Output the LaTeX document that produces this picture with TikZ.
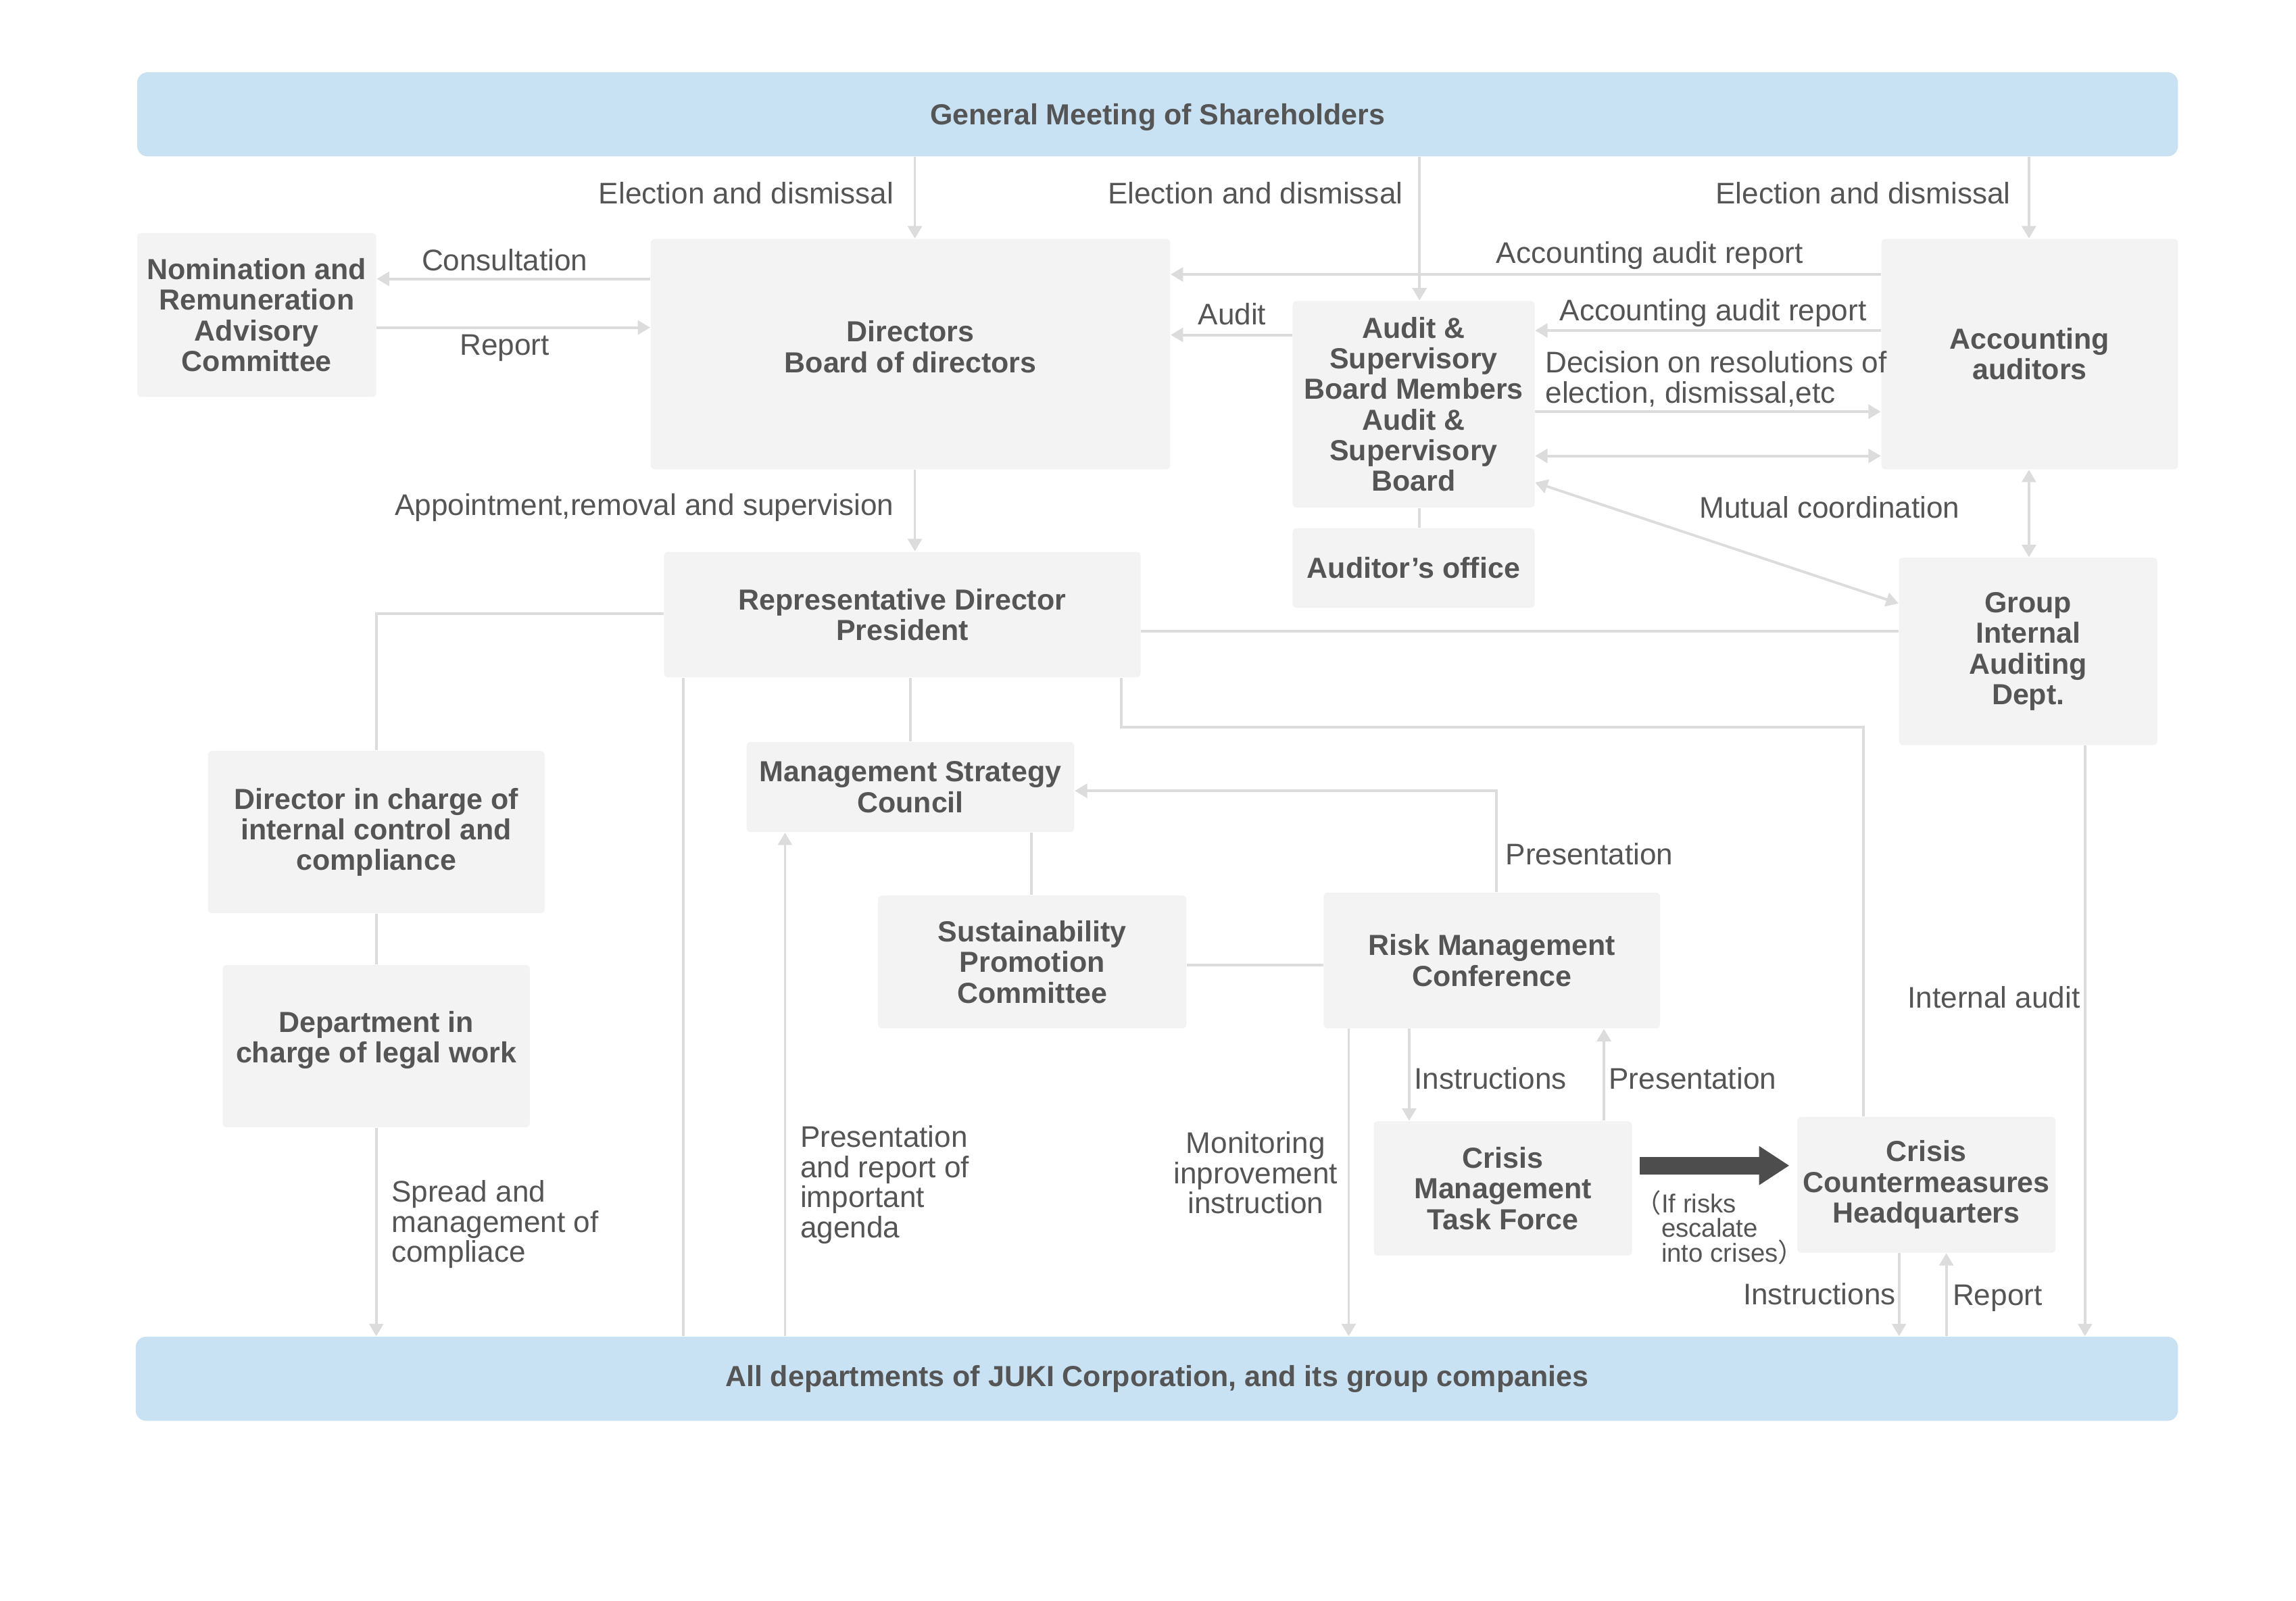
\documentclass[tikz,border=0pt]{standalone}
\usepackage{fontspec}
\setmainfont{Liberation Sans}
\newfontfamily\cjkfont{Noto Sans CJK JP}
\usetikzlibrary{arrows.meta,fit}
\definecolor{bannerblue}{HTML}{C9E2F3}
\definecolor{boxgray}{HTML}{F3F3F3}
\definecolor{linegray}{HTML}{DCDCDC}
\definecolor{textgray}{HTML}{555555}
\definecolor{bigarrowgray}{HTML}{4D4D4D}
% #1 style, #2 name, #3 #4 corners, #5 text shift, #6 text
\newcommand\mkbox[6][box]{%
  \node[#1, fit={#3 #4}] (#2) {};
  \node[boxtext, yshift=#5] (#2-t) at (#2.center) {#6};}
\begin{document}
\begin{tikzpicture}[x=0.02cm,y=-0.02cm,
  box/.style={fill=boxgray, rounded corners=1.5pt, inner sep=0pt},
  banner/.style={fill=bannerblue, rounded corners=4pt, inner sep=0pt},
  boxtext/.style={inner sep=0pt, align=center,
    font=\fontsize{11.2}{11.8}\selectfont\bfseries, text=textgray},
  lbl/.style={font=\fontsize{11.5}{11.6}\selectfont, text=textgray, inner sep=0pt},
  smalllbl/.style={font=\fontsize{10}{9.6}\selectfont, text=textgray, inner sep=0pt, align=left},
  conn/.style={draw=linegray, line width=1pt},
  arr/.style={conn, -{Triangle[width=5.4pt,length=4.8pt]}},
  darr/.style={conn, {Triangle[width=5.4pt,length=4.8pt]}-{Triangle[width=5.4pt,length=4.8pt]}},
  bigarr/.style={draw=bigarrowgray, line width=6.8pt, -{Triangle[width=0.5cm,length=0.41cm]}},
]
\useasboundingbox (0,0) rectangle (1556,1085);

% helper coordinates
\coordinate (x255) at (255,0);
\coordinate (x463) at (463,0);
\coordinate (x532) at (532,0);
\coordinate (x617) at (617,0);
\coordinate (x620) at (620,0);
\coordinate (x699) at (699,0);
\coordinate (x760) at (760,0);
\coordinate (x914) at (914,0);
\coordinate (x955) at (955,0);
\coordinate (x962) at (962,0);
\coordinate (x1014) at (1014,0);
\coordinate (x1087) at (1087,0);
\coordinate (x1263) at (1263,0);
\coordinate (x1287) at (1287,0);
\coordinate (x1319) at (1319,0);
\coordinate (x1375) at (1375,0);
\coordinate (x1413) at (1413,0);
\coordinate (y186) at (0,186);
\coordinate (y189) at (0,189);
\coordinate (y222) at (0,222);
\coordinate (y224) at (0,224);
\coordinate (y227) at (0,227);
\coordinate (y279) at (0,279);
\coordinate (y309) at (0,309);
\coordinate (y327) at (0,327);
\coordinate (y409) at (0,409);
\coordinate (y416) at (0,416);
\coordinate (y428) at (0,428);
\coordinate (y536) at (0,536);
\coordinate (y654) at (0,654);
\coordinate (y790) at (0,790);
\coordinate (bendA) at (1263,493);

% banners
\mkbox[banner]{gm}{(93,49)}{(1476,106)}{-0.04cm}{General Meeting of Shareholders}
\mkbox[banner]{all}{(92,906)}{(1476,963)}{0cm}{All departments of JUKI Corporation, and its group companies}

% boxes
\mkbox{nom}{(93,158)}{(255,269)}{0cm}{Nomination and\\Remuneration\\Advisory\\Committee}
\mkbox{dir}{(441,162)}{(793,318)}{0.1cm}{Directors\\Board of directors}
\mkbox{asb}{(876,204)}{(1040,344)}{0cm}{Audit \&\\Supervisory\\Board Members\\Audit \&\\Supervisory\\Board}
\mkbox{aof}{(876,358)}{(1040,412)}{0cm}{Auditor’s office}
\mkbox{acc}{(1275,162)}{(1476,318)}{0cm}{Accounting\\auditors}
\mkbox{rep}{(450,374)}{(773,459)}{0cm}{Representative Director\\President}
\mkbox{gia}{(1287,378)}{(1462,505)}{0cm}{Group\\Internal\\Auditing\\Dept.}
\mkbox{dic}{(141,509)}{(369,619)}{0cm}{Director in charge of\\internal control and\\compliance}
\mkbox{dlw}{(151,654)}{(359,764)}{0.08cm}{Department in\\charge of legal work}
\mkbox{msc}{(506,503)}{(728,564)}{0cm}{Management Strategy\\Council}
\mkbox{spc}{(595,607)}{(804,697)}{0cm}{Sustainability\\Promotion\\Committee}
\mkbox{rmc}{(897,605)}{(1125,697)}{0cm}{Risk Management\\Conference}
\mkbox{cmt}{(931,760)}{(1106,851)}{0cm}{Crisis\\Management\\Task Force}
\mkbox{chq}{(1218,757)}{(1393,849)}{0cm}{Crisis\\Countermeasures\\Headquarters}

% connectors
\draw[arr] (gm.south -| x620) -- (dir.north -| x620);
\draw[arr] (gm.south -| x962) -- (asb.north -| x962);
\draw[arr] (gm.south -| x1375) -- (acc.north -| x1375);
\draw[arr] (dir.west |- y189) -- (nom.east |- y189);
\draw[arr] (nom.east |- y222) -- (dir.west |- y222);
\draw[arr] (acc.west |- y186) -- (dir.east |- y186);
\draw[arr] (asb.west |- y227) -- (dir.east |- y227);
\draw[arr] (acc.west |- y224) -- (asb.east |- y224);
\draw[arr] (asb.east |- y279) -- (acc.west |- y279);
\draw[darr] (asb.east |- y309) -- (acc.west |- y309);
\draw[darr] (asb.east |- y327) -- (gia.west |- y409);
\draw[darr] (acc.south -| x1375) -- (gia.north -| x1375);
\draw[conn] (asb.south -| x962) -- (aof.north -| x962);
\draw[arr] (dir.south -| x620) -- (rep.north -| x620);
\draw[conn] (rep.east |- y428) -- (gia.west |- y428);
\draw[conn] (rep.west |- y416) -| (dic.north -| x255);
\draw[conn] (dic.south -| x255) -- (dlw.north -| x255);
\draw[arr] (dlw.south -| x255) -- (all.north -| x255);
\draw[conn] (rep.south -| x463) -- (all.north -| x463);
\draw[conn] (rep.south -| x617) -- (msc.north -| x617);
\draw[conn] (rep.south -| x760) |- (bendA) -- (chq.north -| x1263);
\draw[arr] (all.north -| x532) -- (msc.south -| x532);
\draw[conn] (msc.south -| x699) -- (spc.north -| x699);
\draw[conn] (spc.east |- y654) -- (rmc.west |- y654);
\draw[arr] (rmc.north -| x1014) |- (msc.east |- y536);
\draw[arr] (rmc.south -| x914) -- (all.north -| x914);
\draw[arr] (rmc.south -| x955) -- (cmt.north -| x955);
\draw[arr] (cmt.north -| x1087) -- (rmc.south -| x1087);
\draw[bigarr, shorten <=0.1cm, shorten >=0.1cm] (cmt.east |- y790) -- (chq.west |- y790);
\draw[arr] (chq.south -| x1287) -- (all.north -| x1287);
\draw[arr] (all.north -| x1319) -- (chq.south -| x1319);
\draw[arr] (gia.south -| x1413) -- (all.north -| x1413);

% labels
\node[lbl, anchor=east] (l1) at (606,131) {Election and dismissal};
\node[lbl, anchor=east] (l2) at (951,131) {Election and dismissal};
\node[lbl, anchor=east] (l3) at (1363,131) {Election and dismissal};
\node[lbl] (l4) at (342,176) {Consultation};
\node[lbl] (l5) at (342,236) {Report};
\node[lbl] (l6) at (1118,173) {Accounting audit report};
\node[lbl] (l7) at (835,213) {Audit};
\node[lbl] (l8) at (1161,212) {Accounting audit report};
\node[lbl, anchor=west, align=left] (l9) at (1047,257) {Decision on resolutions of\\election, dismissal,etc};
\node[lbl] (l10) at (1240,344) {Mutual coordination};
\node[lbl, anchor=east] (l11) at (606,344) {Appointment,removal and supervision};
\node[lbl, anchor=west, align=left] (l12) at (265,830) {Spread and\\management of\\compliace};
\node[lbl, anchor=west, align=left] (l13) at (542,803) {Presentation\\and report of\\important\\agenda};
\node[lbl, anchor=west] (l14) at (1020,579) {Presentation};
\node[lbl, align=center] (l15) at (851,795) {Monitoring\\inprovement\\instruction};
\node[lbl, anchor=west] (l16) at (958,731) {Instructions};
\node[lbl, anchor=west] (l17) at (1090,731) {Presentation};
\node[smalllbl, anchor=west] (l18) at (1108,832) {{\cjkfont （}If risks\\\phantom{\cjkfont （}escalate\\\phantom{\cjkfont （}into crises{\cjkfont ）}};
\node[lbl, anchor=east] (l19) at (1285,877) {Instructions};
\node[lbl, anchor=west] (l20) at (1323,880) {Report};
\node[lbl, anchor=east] (l21) at (1410,676) {Internal audit};
\end{tikzpicture}
\end{document}
